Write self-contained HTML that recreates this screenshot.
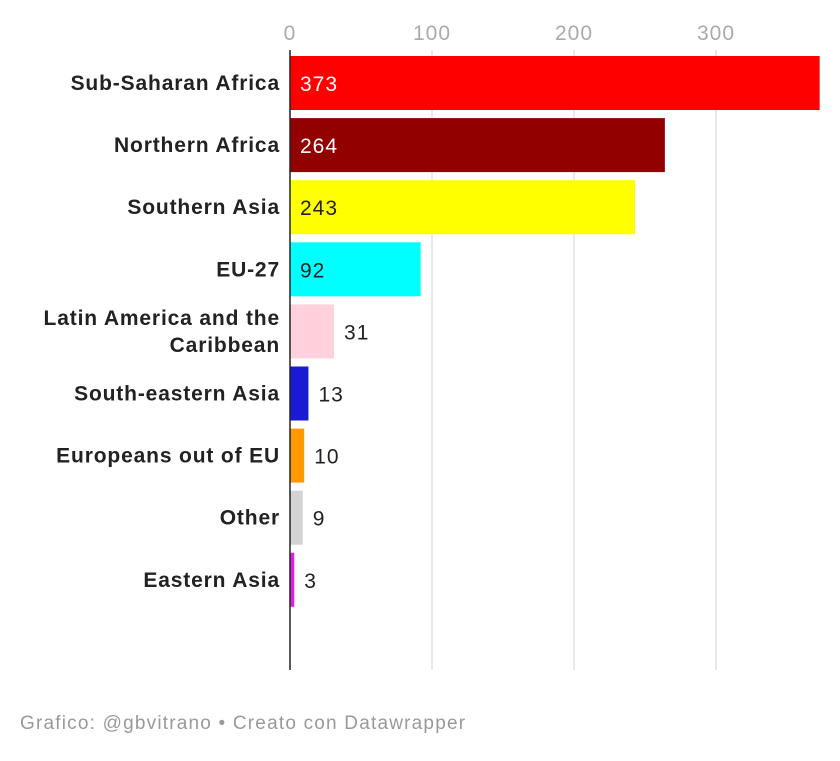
<!DOCTYPE html>
<html><head><meta charset="utf-8"><style>
body{margin:0;background:#fff;width:840px;height:756px;overflow:hidden;font-family:"Liberation Sans",sans-serif}
</style></head><body>
<svg id="chart" width="840" height="756"></svg>
<script>
const categories=["Sub-Saharan Africa","Northern Africa","Southern Asia","EU-27","Latin America and the|Caribbean","South-eastern Asia","Europeans out of EU","Other","Eastern Asia"];
const values=[373,264,243,92,31,13,10,9,3];
const colors=["#ff0000","#930000","#ffff00","#00ffff","#ffd1dc","#1a1ad2","#ff9900","#d3d3d3","#e020e0"];
const labelColors=["#fff","#fff","#222","#222"];
const ticks=[0,100,200,300];
const svg=document.getElementById('chart');
const NS="http://www.w3.org/2000/svg";
const x=v=>290+v*1.42;
const yc=i=>83+i*62.1;
function mk(t,a,txt){const e=document.createElementNS(NS,t);for(const k in a)e.setAttribute(k,a[k]);if(txt!==undefined)e.textContent=txt;svg.appendChild(e);return e;}
ticks.forEach(t=>{
 if(t>0){const g=mk('line',{x1:x(t),x2:x(t),y1:50,y2:670,stroke:'#e2e2e2','stroke-width':1.5});
 
 }
 const l=mk('text',{x:x(t),y:40,'text-anchor':'middle','font-size':21,'letter-spacing':1,fill:'#aaa'},t);
 
 
});
categories.forEach((c,i)=>{
 const v=values[i],cy=yc(i);
 const b=mk('rect',{x:290,y:cy-27,width:x(v)-290,height:54,fill:colors[i]});
 
 
 const parts=c.split('|');
 parts.forEach((p,j)=>{
  const t=mk('text',{x:280,y:cy+7+(j-(parts.length-1)/2)*27,'text-anchor':'end','font-size':21,'letter-spacing':0.85,'font-weight':'bold',fill:'#222'},p);
  
  
 });
 const inside=x(v)-290>80;
 const vl=mk('text',{x:inside?300:x(v)+10,y:cy+8,'font-size':21,'letter-spacing':1,fill:inside?labelColors[i]:'#222'},v);
 
 
});
const ax=mk('line',{x1:290,x2:290,y1:50,y2:670,stroke:'#222','stroke-width':1.5});


const f=mk('text',{x:20,y:729,'font-size':19,'letter-spacing':1.2,fill:'#999'},'Grafico: @gbvitrano • Creato con Datawrapper');


</script>
</body></html>
